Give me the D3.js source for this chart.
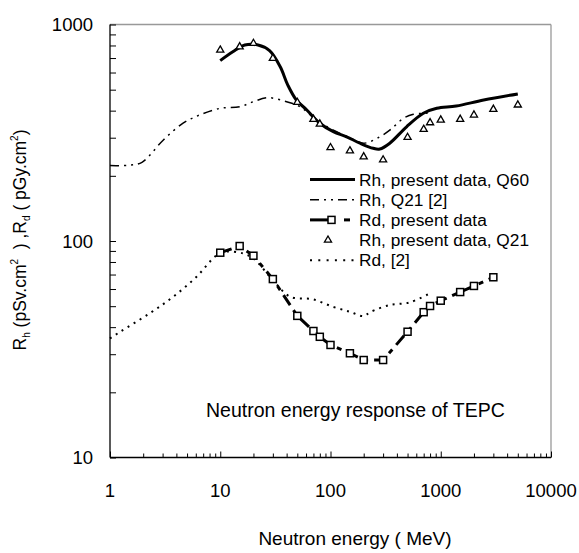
<!DOCTYPE html>
<html>
<head>
<meta charset="utf-8">
<script src="https://cdn.jsdelivr.net/npm/d3@7"></script>
<style>
  body { margin: 0; background: #fff; }
  svg { display: block; font-family: "Liberation Sans", Arial, sans-serif; }
</style>
</head>
<body>
<svg id="chart" width="579" height="553"></svg>
<script>
// tick labels
const xTickValues = [1, 10, 100, 1000, 10000];
const yTickValues = [10, 100, 1000];

// Rh, present data, Q60 (solid curve)
const q60Energy = [10, 13, 16.7, 22, 28, 35, 41, 49, 61, 80, 106, 140, 185, 244, 280, 345, 490, 695, 920, 1380, 2450, 5000];
const q60Rh = [681, 748, 804, 804, 757, 638, 525, 448, 403, 350, 320, 303, 283, 268, 266, 283, 337, 389, 410, 420, 448, 478];

// Rh, Q21 [2] (dash-dot curve)
const ref21Energy = [1, 1.5, 1.95, 3.05, 4.6, 6.5, 10, 15, 20, 27, 40, 53, 70, 100, 150, 200, 280, 345, 460, 565, 700, 800];
const ref21Rh = [223, 224, 231, 293, 350, 382, 410, 417, 440, 459, 440, 417, 372, 330, 300, 283, 303, 325, 369, 385, 389, 390];

// Rh, present data, Q21 (triangles)
const q21Energy = [10, 15, 20, 30, 50, 70, 80, 100, 150, 200, 300, 500, 700, 800, 1000, 1500, 2000, 3000, 5000];
const q21Rh = [762, 789, 818, 698, 437, 365, 347, 270, 261, 245, 237, 301, 328, 352, 362, 365, 382, 406, 425];

// Rd, present data (squares)
const rdEnergy = [10, 15, 20, 30, 50, 70, 80, 100, 150, 200, 300, 500, 700, 800, 1000, 1500, 2000, 3000];
const rdValue = [88.3, 94.8, 85.5, 66.7, 45.1, 38.4, 36.1, 33.1, 30.3, 28.2, 28.2, 38.1, 46.9, 50.1, 53, 58.1, 62, 68];

// Rd, [2] (dotted curve)
const refRdEnergy = [1, 1.23, 2.3, 3.75, 6.1, 9.3, 11.4, 16, 20, 30, 43, 69, 105, 150, 200, 230, 345, 520, 780];
const refRdValue = [35.5, 38, 46.4, 55.3, 68.4, 86, 89.3, 87.7, 83, 66, 55.3, 53.8, 49.7, 47.1, 45, 47, 50.6, 52, 57];

const svg = d3.select("#chart");

const x = d3.scaleLog().domain([1, 10000]).range([110, 551]);
const y = d3.scaleLog().domain([10, 1000]).range([457.5, 24.5]);

const zip = (xs, ys) => xs.map((v, i) => ({ e: v, r: ys[i] }));

// frame: top and right in grey
svg.append("line").attr("x1", x(1)).attr("x2", x(10000)).attr("y1", y(1000)).attr("y2", y(1000))
    .attr("stroke", "#999").attr("stroke-width", 1.3);
svg.append("line").attr("x1", x(10000)).attr("x2", x(10000)).attr("y1", y(1000)).attr("y2", y(10))
    .attr("stroke", "#999").attr("stroke-width", 1.3);

// ticks (inward)
let xMinor = [], yMinor = [];
for (let d = 1; d < 10000; d *= 10) for (let k = 2; k <= 9; k++) xMinor.push(d * k);
for (let d = 10; d < 1000; d *= 10) for (let k = 2; k <= 9; k++) yMinor.push(d * k);

svg.append("g").attr("transform", `translate(0,${y(10)})`)
    .call(d3.axisBottom(x).tickValues(xMinor).tickSize(-4).tickFormat(""))
    .call(g => g.select(".domain").remove())
    .selectAll("line").attr("stroke", "#000");
svg.append("g").attr("transform", `translate(0,${y(10)})`)
    .call(d3.axisBottom(x).tickValues(xTickValues).tickSize(-6).tickFormat(""))
    .call(g => g.select(".domain").remove())
    .selectAll("line").attr("stroke", "#000");
svg.append("g").attr("transform", `translate(${x(1)},0)`)
    .call(d3.axisLeft(y).tickValues(yMinor.concat(yTickValues)).tickSize(-6).tickFormat(""))
    .call(g => g.select(".domain").remove())
    .selectAll("line").attr("stroke", "#000");

// left and bottom axis lines
svg.append("line").attr("x1", x(1)).attr("x2", x(1)).attr("y1", y(1000)).attr("y2", y(10))
    .attr("stroke", "#000").attr("stroke-width", 1.3);
svg.append("line").attr("x1", x(1)).attr("x2", x(10000)).attr("y1", y(10)).attr("y2", y(10))
    .attr("stroke", "#000").attr("stroke-width", 1.3);

// tick labels
svg.selectAll(".xlab").data(xTickValues).enter().append("text")
    .attr("x", d => x(d)).attr("y", 497).attr("text-anchor", "middle")
    .attr("font-size", 18.5).text(d => d);
svg.selectAll(".ylab").data(yTickValues).enter().append("text")
    .attr("x", 93).attr("y", d => y(d) + 6.5).attr("text-anchor", "end")
    .attr("font-size", 18.5).text(d => d);

// axis titles
svg.append("text").attr("x", 355).attr("y", 545).attr("text-anchor", "middle")
    .attr("font-size", 19).text("Neutron energy ( MeV)");

const yt = svg.append("text").attr("transform", "translate(26,240) rotate(-90)")
    .attr("text-anchor", "middle").attr("font-size", 17.5);
yt.append("tspan").text("R");
yt.append("tspan").attr("font-size", 10).attr("dy", 4).text("h");
yt.append("tspan").attr("dy", -4).text(" (pSv.cm");
yt.append("tspan").attr("font-size", 10).attr("dy", -8).text("2");
yt.append("tspan").attr("dy", 8).text("\u00a0\u00a0) ,R");
yt.append("tspan").attr("font-size", 10).attr("dy", 4).text("d");
yt.append("tspan").attr("dy", -4).text(" ( pGy.cm");
yt.append("tspan").attr("font-size", 10).attr("dy", -8).text("2");
yt.append("tspan").attr("dy", 8).text(")");

const smooth = d3.line().x(d => x(d.e)).y(d => y(d.r)).curve(d3.curveCatmullRom.alpha(0.5));
const straight = d3.line().x(d => x(d.e)).y(d => y(d.r));

// Rd [2] dotted
svg.append("path").attr("d", smooth(zip(refRdEnergy, refRdValue)))
    .attr("fill", "none").attr("stroke", "#000").attr("stroke-width", 2).attr("stroke-dasharray", "2,5");

// Rh Q21 [2] dash-dot
svg.append("path").attr("d", smooth(zip(ref21Energy, ref21Rh)))
    .attr("fill", "none").attr("stroke", "#000").attr("stroke-width", 1.5).attr("stroke-dasharray", "9,5,2,5,2,5");

// Rh Q60 solid
svg.append("path").attr("d", smooth(zip(q60Energy, q60Rh)))
    .attr("fill", "none").attr("stroke", "#000").attr("stroke-width", 3);

// Rd present data line + squares
const rdData = zip(rdEnergy, rdValue);
svg.append("path").attr("d", straight(rdData))
    .attr("fill", "none").attr("stroke", "#000").attr("stroke-width", 3).attr("stroke-dasharray", "12,6,5,6");
svg.selectAll(".sq").data(rdData).enter().append("rect")
    .attr("x", d => x(d.e) - 3.5).attr("y", d => y(d.r) - 3.5)
    .attr("width", 7).attr("height", 7)
    .attr("fill", "#fff").attr("stroke", "#000").attr("stroke-width", 1.5);

// triangles
const tri = d3.symbol().type(d3.symbolTriangle).size(22);
svg.selectAll(".tri").data(zip(q21Energy, q21Rh)).enter().append("path")
    .attr("d", tri).attr("transform", d => `translate(${x(d.e)},${y(d.r)})`)
    .attr("fill", "#fff").attr("stroke", "#000").attr("stroke-width", 1.3);

// legend
const legend = [
  { label: "Rh, present data, Q60", kind: "solid" },
  { label: "Rh, Q21 [2]", kind: "dashdot" },
  { label: "Rd, present data", kind: "square" },
  { label: "Rh, present data, Q21", kind: "tri" },
  { label: "Rd, [2]", kind: "dot" }
];
const lg = svg.append("g");
legend.forEach((it, i) => {
  const cy = 179.5 + i * 20.2;
  if (it.kind === "solid") {
    lg.append("line").attr("x1", 310).attr("x2", 355).attr("y1", cy).attr("y2", cy)
      .attr("stroke", "#000").attr("stroke-width", 3);
  } else if (it.kind === "dashdot") {
    lg.append("line").attr("x1", 310).attr("x2", 354).attr("y1", cy).attr("y2", cy)
      .attr("stroke", "#000").attr("stroke-width", 1.5).attr("stroke-dasharray", "9,5,2,5,2,5");
  } else if (it.kind === "square") {
    lg.append("line").attr("x1", 310).attr("x2", 328).attr("y1", cy).attr("y2", cy)
      .attr("stroke", "#000").attr("stroke-width", 3);
    lg.append("line").attr("x1", 344).attr("x2", 350).attr("y1", cy).attr("y2", cy)
      .attr("stroke", "#000").attr("stroke-width", 3);
    lg.append("rect").attr("x", 328).attr("y", cy - 3.5).attr("width", 7).attr("height", 7)
      .attr("fill", "#fff").attr("stroke", "#000").attr("stroke-width", 1.5);
  } else if (it.kind === "tri") {
    lg.append("path").attr("d", tri).attr("transform", `translate(328,${cy})`)
      .attr("fill", "#fff").attr("stroke", "#000").attr("stroke-width", 1.3);
  } else {
    lg.append("line").attr("x1", 310).attr("x2", 357).attr("y1", cy).attr("y2", cy)
      .attr("stroke", "#000").attr("stroke-width", 2).attr("stroke-dasharray", "2,6.3");
  }
  lg.append("text").attr("x", 359).attr("y", cy + 6).attr("font-size", 17.3).text(it.label);
});

// annotation
svg.append("text").attr("x", 206).attr("y", 417).attr("font-size", 19.5)
    .text("Neutron energy response of TEPC");
</script>
</body>
</html>
